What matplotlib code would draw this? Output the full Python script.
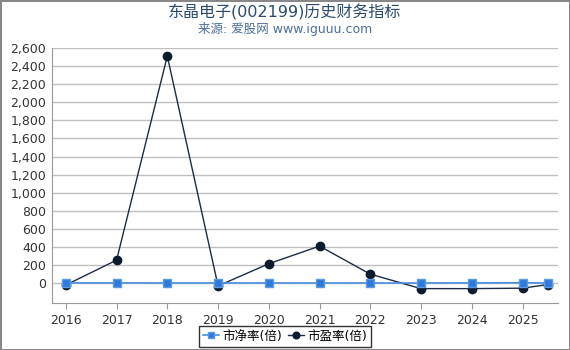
import matplotlib.pyplot as plt

plt.rcParams['font.family'] = ['DejaVu Sans', 'Noto Sans CJK SC']

years = [2016, 2017, 2018, 2019, 2020, 2021, 2022, 2023, 2024, 2025, 2025.5]
pb = [3, 3, 2, 2, 2, 2, 2, 2, 3, 5, 2]
pe = [-20, 255, 2510, -30, 215, 410, 100, -60, -60, -55, -15]
yticks = list(range(0, 2601, 200))
xticks = list(range(2016, 2026))

fig = plt.figure(figsize=(5.7, 3.5), dpi=100)
fig.patch.set_edgecolor('#888888')
fig.patch.set_linewidth(2)
ax = fig.add_axes([0.091, 0.134, 0.888, 0.729])

ax.plot(years, pb, color='#4a8ee0', lw=1.2, marker='s', ms=6,
        mfc='#2f7ad8', mec='#5a9ae6', label='市净率(倍)', zorder=3)
ax.plot(years, pe, color='#1c2c44', lw=1, marker='o', ms=6,
        mfc='#0d1b2e', mec='#0d1b2e', label='市盈率(倍)', zorder=2)

ax.set_xlim(2015.725, 2025.7)
ax.set_ylim(-220, 2600)
ax.set_yticks(yticks)
ax.set_yticklabels([f'{v:,}' for v in yticks])
ax.set_xticks(xticks)
ax.yaxis.grid(True, color='#c0c0c0', lw=1)
ax.set_axisbelow(True)
for s in ['top', 'right']:
    ax.spines[s].set_visible(False)
ax.spines['left'].set_color('#999999')
ax.spines['bottom'].set_color('#999999')
ax.tick_params(axis='y', length=0, labelsize=9, colors='#333333', pad=4)
ax.tick_params(axis='x', length=4, color='#999999', labelsize=9, colors='#333333')

fig.text(0.5, 0.965, '东晶电子(002199)历史财务指标', ha='center', va='center',
         fontsize=11.5, color='#2a4a6e')
fig.text(0.5, 0.918, '来源: 爱股网 www.iguuu.com', ha='center', va='center',
         fontsize=9, color='#4a6e9a')

leg = fig.legend(*ax.get_legend_handles_labels(), loc='lower center',
                 bbox_to_anchor=(0.5, 0.01), ncol=2,
                 frameon=True, fancybox=False, fontsize=9, handlelength=1.3,
                 handletextpad=0.3, columnspacing=0.4, borderpad=0.3,
                 borderaxespad=0, markerscale=0.8)
leg.get_frame().set_edgecolor('black')
leg.get_frame().set_linewidth(1)

fig.savefig('out.png', dpi=100)
